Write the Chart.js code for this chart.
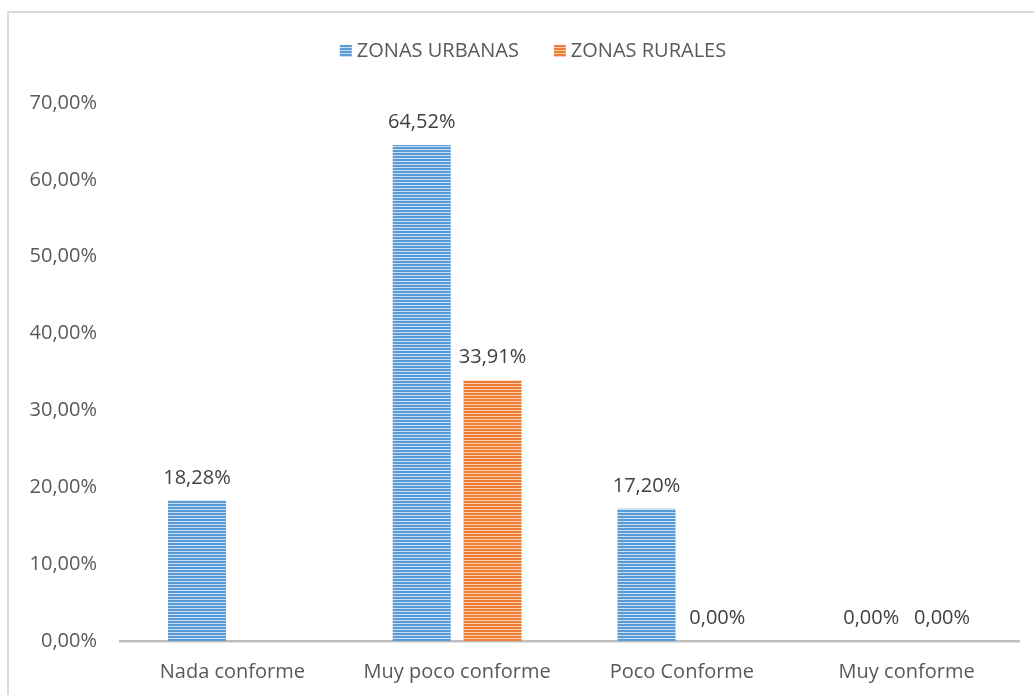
<!DOCTYPE html>
<html>
<head>
<meta charset="utf-8">
<script src="https://cdn.jsdelivr.net/npm/chart.js@4/dist/chart.umd.min.js"></script>
<style>
  html, body { margin: 0; padding: 0; background: #fff; }
  #wrap { position: relative; width: 1034px; height: 695px; overflow: hidden; }
  #frame { position: absolute; left: 7px; top: 11px; width: 1100px; height: 800px; border: 2px solid #d9d9d9; box-sizing: border-box; }
  canvas { position: absolute; left: 0; top: 0; }
</style>
</head>
<body>
<div id="wrap">
  <div id="frame"></div>
  <canvas id="chart" width="1034" height="695"></canvas>
</div>
<script>
const categories = ['Nada conforme', 'Muy poco conforme', 'Poco Conforme', 'Muy conforme'];
const urbanValues = [18.28, 64.52, 17.20, 0];
const ruralValues = [null, 33.91, 0, 0];
const seriesNames = ['ZONAS URBANAS', 'ZONAS RURALES'];
const yTicks = [0, 10, 20, 30, 40, 50, 60, 70];

const FONT = '"Open Sans", "Liberation Sans", sans-serif';
const TEXT = '#595959';

// horizontal stripe fill, like the office "narrow horizontal" pattern
function stripes(dark, light) {
    const c = document.createElement('canvas');
    c.width = 4;
    c.height = 3;
    const g = c.getContext('2d');
    g.fillStyle = dark;
    g.fillRect(0, 0, 4, 2);
    g.fillStyle = light;
    g.fillRect(0, 2, 4, 1);
    return g.createPattern(c, 'repeat');
}

const pct = v => v.toFixed(2).replace('.', ',') + '%';

const valueLabels = {
    id: 'valueLabels',
    afterDatasetsDraw(chart) {
        const ctx = chart.ctx;
        ctx.save();
        ctx.font = '20px ' + FONT;
        ctx.fillStyle = '#404040';
        ctx.textAlign = 'center';
        ctx.textBaseline = 'alphabetic';
        chart.data.datasets.forEach((ds, i) => {
            chart.getDatasetMeta(i).data.forEach((bar, j) => {
                const v = ds.data[j];
                if (v === null) return;
                ctx.fillText(pct(v), bar.x, bar.y - 17);
            });
        });
        ctx.restore();
    }
};

// legend drawn by hand so it does not push the plot down
const topLegend = {
    id: 'topLegend',
    afterDraw(chart) {
        const ctx = chart.ctx;
        ctx.save();
        ctx.font = '20px ' + FONT;
        ctx.textBaseline = 'middle';
        const y = 51;
        const box = 12, gap = 5, between = 35;
        const items = chart.data.datasets.map(ds => ({ label: ds.label, fill: ds.backgroundColor }));
        let total = 0;
        items.forEach((it, i) => {
            total += box + gap + ctx.measureText(it.label).width + (i < items.length - 1 ? between : 0);
        });
        let x = (chart.width - total) / 2 + 16;
        items.forEach(it => {
            ctx.fillStyle = it.fill;
            ctx.fillRect(x, y - box / 2, box, box);
            x += box + gap;
            ctx.fillStyle = TEXT;
            ctx.fillText(it.label, x, y);
            x += ctx.measureText(it.label).width + between;
        });
        ctx.restore();
    }
};

new Chart(document.getElementById('chart'), {
    type: 'bar',
    data: {
        labels: categories,
        datasets: [
            {
                label: seriesNames[0],
                data: urbanValues,
                backgroundColor: stripes('#5B9BD5', '#C9DEF2'),
                categoryPercentage: 0.63,
                barPercentage: 0.82
            },
            {
                label: seriesNames[1],
                data: ruralValues,
                backgroundColor: stripes('#ED7D31', '#F9CFB3'),
                categoryPercentage: 0.63,
                barPercentage: 0.82
            }
        ]
    },
    options: {
        responsive: false,
        animation: false,
        layout: { padding: { top: 103, right: 15, left: 0, bottom: 0 } },
        plugins: {
            legend: { display: false },
            tooltip: { enabled: false }
        },
        scales: {
            x: {
                grid: { display: false, drawTicks: false },
                border: { display: true, color: '#BFBFBF', width: 2.5 },
                ticks: { color: TEXT, font: { family: FONT, size: 20 }, padding: 19 },
                afterFit(scale) { scale.height = 54; }
            },
            y: {
                min: 0,
                max: 70,
                grid: { display: false, drawTicks: false },
                border: { display: false },
                afterBuildTicks(scale) { scale.ticks = yTicks.map(v => ({ value: v })); },
                ticks: {
                    color: TEXT,
                    font: { family: FONT, size: 20 },
                    padding: 23,
                    callback: v => pct(v)
                },
                afterFit(scale) { scale.width = 120; }
            }
        }
    },
    plugins: [valueLabels, topLegend]
});
</script>
</body>
</html>
